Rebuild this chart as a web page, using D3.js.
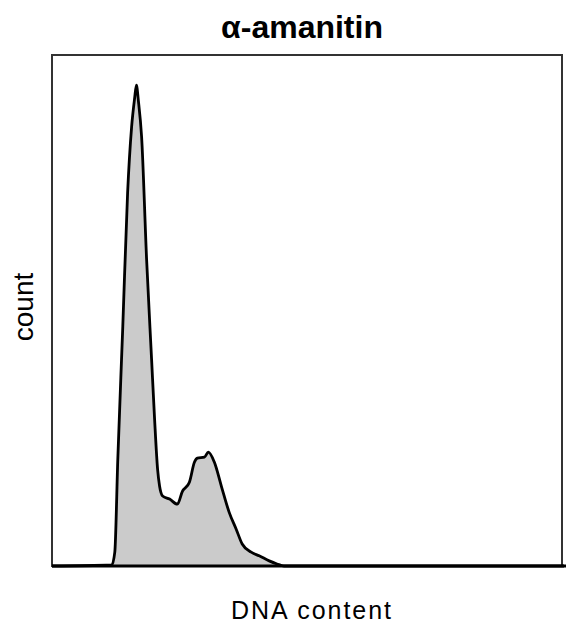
<!DOCTYPE html>
<html>
<head>
<meta charset="utf-8">
<script src="https://cdn.jsdelivr.net/npm/d3@7"></script>
<style>
  body { margin: 0; background: #fff; }
  svg { display: block; }
</style>
</head>
<body>
<div id="chart"></div>
<script>
// histogram: DNA channel vs cell count
const channels = [0, 29.9, 31.4, 32.9, 35.4, 37.8, 39.8, 41.3, 42.2, 43.2, 44.8, 47.3, 49.8, 51.3, 52.8, 53.8, 55.3,
  58.8, 62.7, 65.2, 68.7, 71.2, 72.7, 76.2, 78.2, 81.2, 84.7, 88.6, 92.1, 95.1, 99.6, 103.6, 108.6, 112.5, 116, 256];
const counts = [0, 2, 27, 209, 469, 730, 859, 915, 941, 910, 840, 600, 404, 287, 189, 156, 137,
  131, 121, 146, 164, 203, 211, 213, 223, 203, 156, 105, 72, 43, 27, 20, 10, 4, 0, 0];

const title = "α-amanitin";
const xLabel = "DNA content";
const yLabel = "count";

const width = 566;
const height = 625;
const margin = { top: 55, right: 2, bottom: 59, left: 52 };

const data = channels.map((c, i) => ({ x: c, y: counts[i] }));

const svg = d3.select("#chart")
  .append("svg")
  .attr("width", width)
  .attr("height", height);

const xScale = d3.scaleLinear()
  .domain([0, 256])
  .range([margin.left, width - margin.right]);

const yScale = d3.scaleLinear()
  .domain([0, 1000])
  .range([height - margin.bottom, margin.top]);

// cadre
svg.append("rect")
  .attr("x", margin.left)
  .attr("y", margin.top)
  .attr("width", width - margin.left - margin.right - 2)
  .attr("height", height - margin.top - margin.bottom)
  .attr("fill", "none")
  .attr("stroke", "#333")
  .attr("stroke-width", 2);

const area = d3.area()
  .x(d => xScale(d.x))
  .y0(yScale(0))
  .y1(d => yScale(d.y))
  .curve(d3.curveMonotoneX);

const line = d3.line()
  .x(d => xScale(d.x))
  .y(d => yScale(d.y))
  .curve(d3.curveMonotoneX);

svg.append("path")
  .datum(data)
  .attr("fill", "#cbcbcb")
  .attr("d", area);

svg.append("path")
  .datum(data)
  .attr("fill", "none")
  .attr("stroke", "#000")
  .attr("stroke-width", 2.8)
  .attr("stroke-linejoin", "round")
  .attr("d", line);

// ligne de base
svg.append("line")
  .attr("x1", margin.left)
  .attr("x2", width)
  .attr("y1", yScale(0))
  .attr("y2", yScale(0))
  .attr("stroke", "#000")
  .attr("stroke-width", 3);

svg.append("text")
  .attr("x", 302)
  .attr("y", 38)
  .attr("text-anchor", "middle")
  .attr("font-family", "Liberation Sans, Arial, sans-serif")
  .attr("font-weight", "bold")
  .attr("font-size", 32)
  .text(title);

svg.append("text")
  .attr("x", 311)
  .attr("y", 619)
  .attr("text-anchor", "middle")
  .attr("font-family", "Liberation Sans, Arial, sans-serif")
  .attr("font-size", 25)
  .attr("textLength", 160)
  .attr("lengthAdjust", "spacing")
  .text(xLabel);

svg.append("text")
  .attr("transform", "translate(33,307) rotate(-90)")
  .attr("text-anchor", "middle")
  .attr("font-family", "Liberation Sans, Arial, sans-serif")
  .attr("font-size", 28)
  .text(yLabel);
</script>
</body>
</html>
